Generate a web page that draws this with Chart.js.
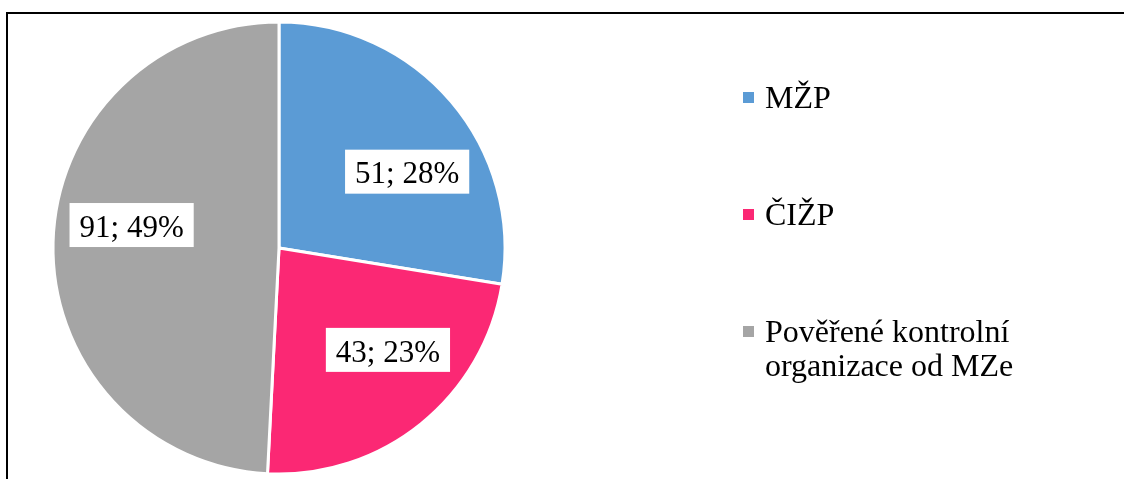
<!DOCTYPE html>
<html>
<head>
<meta charset="utf-8">
<script src="https://cdn.jsdelivr.net/npm/chart.js@4"></script>
<style>
  html, body { margin: 0; padding: 0; background: #fff; }
  #wrap { position: relative; width: 1124px; height: 479px; }
</style>
</head>
<body>
<div id="wrap"><canvas id="pie"></canvas></div>
<script>
const categories = ['MŽP', 'ČIŽP', 'Pověřené kontrolní organizace od MZe'];
const counts = [51, 43, 91];
const sliceColors = ['#5B9BD5', '#FB2874', '#A5A5A5'];

const SERIF = '"Liberation Serif", "Times New Roman", serif';

// thin frame like the original screenshot (top and left edge only)
const framePlugin = {
  id: 'frame',
  beforeDraw(chart) {
    const { ctx } = chart;
    ctx.save();
    ctx.strokeStyle = '#000';
    ctx.lineWidth = 2;
    ctx.beginPath();
    ctx.moveTo(7, 479);
    ctx.lineTo(7, 13);
    ctx.lineTo(1124, 13);
    ctx.stroke();
    ctx.restore();
  },
};

// "value; percent" labels in white boxes
const sliceLabels = {
  id: 'sliceLabels',
  afterDatasetsDraw(chart, args, opts) {
    const { ctx } = chart;
    const meta = chart.getDatasetMeta(0);
    const values = chart.data.datasets[0].data;
    const total = values.reduce((a, b) => a + b, 0);
    ctx.save();
    ctx.font = `${opts.size}px ${SERIF}`;
    ctx.textAlign = 'center';
    ctx.textBaseline = 'alphabetic';
    meta.data.forEach((arc, i) => {
      const { x, y, startAngle, endAngle, outerRadius } = arc.getProps(
        ['x', 'y', 'startAngle', 'endAngle', 'outerRadius'],
        true
      );
      const mid = (startAngle + endAngle) / 2 + (opts.shift[i] || 0) * Math.PI / 180;
      const r = outerRadius * opts.radiusFraction;
      const cx = x + Math.cos(mid) * r;
      const cy = y + Math.sin(mid) * r;
      const text = `${values[i]}; ${Math.round((values[i] / total) * 100)}%`;
      const w = ctx.measureText(text).width + opts.padX * 2;
      const h = opts.boxHeight;
      ctx.fillStyle = '#fff';
      ctx.fillRect(cx - w / 2, cy - h / 2, w, h);
      ctx.fillStyle = '#000';
      ctx.fillText(text, cx, cy + opts.size * 0.38);
    });
    ctx.restore();
  },
};

// legend on the right, with wrapped long labels
const sideLegend = {
  id: 'sideLegend',
  afterDraw(chart, args, opts) {
    const { ctx } = chart;
    const labels = chart.data.labels;
    const colors = chart.data.datasets[0].backgroundColor;
    ctx.save();
    ctx.font = `${opts.size}px ${SERIF}`;
    ctx.textAlign = 'left';
    ctx.textBaseline = 'alphabetic';
    labels.forEach((label, i) => {
      const baseY = opts.top + i * opts.step;
      ctx.fillStyle = colors[i];
      ctx.fillRect(opts.x, baseY - 16, 11, 11);
      const words = label.split(' ');
      const lines = [];
      let line = '';
      for (const word of words) {
        const test = line ? `${line} ${word}` : word;
        if (line && ctx.measureText(test).width > opts.maxWidth) {
          lines.push(line);
          line = word;
        } else {
          line = test;
        }
      }
      lines.push(line);
      ctx.fillStyle = '#000';
      lines.forEach((l, j) => {
        ctx.fillText(l, opts.x + 22, baseY + j * opts.lineHeight);
      });
    });
    ctx.restore();
  },
};

new Chart(document.getElementById('pie'), {
  type: 'pie',
  data: {
    labels: categories,
    datasets: [
      {
        data: counts,
        backgroundColor: sliceColors,
        borderColor: '#fff',
        borderWidth: 3,
      },
    ],
  },
  options: {
    responsive: true,
    maintainAspectRatio: false,
    animation: false,
    layout: {
      padding: { left: 51.5, right: 617.5, top: 20.5, bottom: 3.5 },
    },
    plugins: {
      legend: { display: false },
      tooltip: { enabled: false },
      sliceLabels: {
        size: 31,
        padX: 10,
        boxHeight: 44,
        radiusFraction: 0.66,
        shift: [9.6, -8, 7.4],
      },
      sideLegend: {
        x: 743,
        top: 108,
        step: 117,
        size: 32,
        lineHeight: 34,
        maxWidth: 275,
      },
    },
  },
  plugins: [framePlugin, sliceLabels, sideLegend],
});
</script>
</body>
</html>
